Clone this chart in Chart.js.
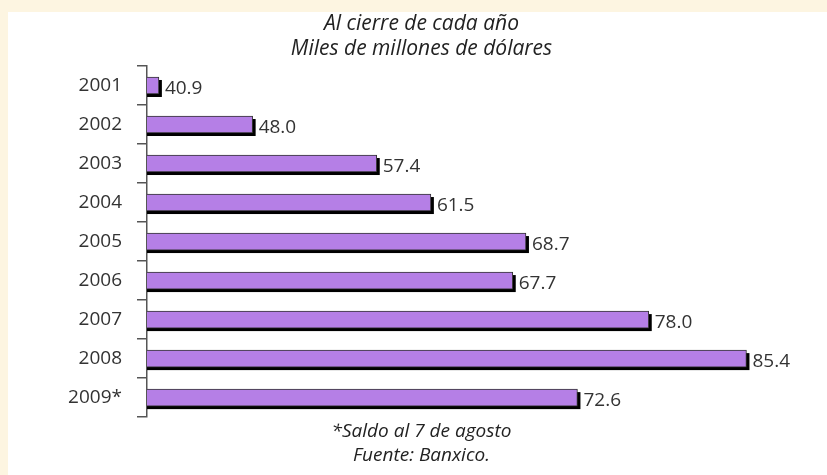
<!DOCTYPE html>
<html lang="es">

<head>
    <meta charset="UTF-8">
    <title>Reservas internacionales</title>
    <script src="https://cdn.jsdelivr.net/npm/chart.js"></script>
    <style>
        * {
            margin: 0;
            padding: 0;
            box-sizing: border-box;
        }

        body {
            width: 827px;
            height: 475px;
            overflow: hidden;
            background-color: #fdf5e1;
            position: relative;
        }

        /* white panel inside the beige frame */
        .panel {
            position: absolute;
            left: 8px;
            top: 12px;
            right: 0;
            bottom: 0;
            background-color: #ffffff;
        }

        #chart {
            position: absolute;
            left: 0;
            top: 0;
        }
    </style>
</head>

<body>
    <div class="panel"></div>
    <canvas id="chart" width="827" height="475"></canvas>

    <script>
        // data
        const years = ['2001', '2002', '2003', '2004', '2005', '2006', '2007', '2008', '2009*'];
        const reserves = [40.9, 48.0, 57.4, 61.5, 68.7, 67.7, 78.0, 85.4, 72.6];
        const titleLines = ['Al cierre de cada año', 'Miles de millones de dólares'];
        const noteLines = ['*Saldo al 7 de agosto', 'Fuente: Banxico.'];

        const textColor = '#333333';

        // black drop shadow under each bar (offset down and right)
        const barShadow = {
            id: 'barShadow',
            beforeDatasetsDraw(chart) {
                const ctx = chart.ctx;
                const meta = chart.getDatasetMeta(0);
                const left = chart.chartArea.left; // bars start at the axis, not at zero
                ctx.save();
                ctx.fillStyle = '#000000';
                meta.data.forEach((bar) => {
                    const h = bar.height;
                    ctx.fillRect(left, bar.y - h / 2 + 3, bar.x - left + 3, h);
                });
                ctx.restore();
            }
        };

        // value text at the end of each bar
        const valueLabels = {
            id: 'valueLabels',
            afterDatasetsDraw(chart) {
                const ctx = chart.ctx;
                const meta = chart.getDatasetMeta(0);
                ctx.save();
                ctx.font = '19px "Open Sans"';
                ctx.fillStyle = textColor;
                ctx.textAlign = 'left';
                ctx.textBaseline = 'middle';
                meta.data.forEach((bar, i) => {
                    ctx.fillText(reserves[i].toFixed(1), bar.x + 6, bar.y + 3);
                });
                ctx.restore();
            }
        };

        const ctx = document.getElementById('chart').getContext('2d');
        const chart = new Chart(ctx, {
            type: 'bar',
            data: {
                labels: years,
                datasets: [{
                    data: reserves,
                    backgroundColor: '#b57fe6',
                    borderColor: '#333333',
                    borderWidth: 1,
                    barThickness: 17,
                    borderSkipped: false
                }]
            },
            options: {
                indexAxis: 'y',
                responsive: false,
                animation: false,
                devicePixelRatio: 1,
                layout: {
                    padding: { left: 16, right: 0, top: 0, bottom: 0 }
                },
                scales: {
                    x: {
                        display: false,
                        min: 40,
                        max: 91.5
                    },
                    y: {
                        afterFit: (scale) => { scale.width = 131; },
                        border: { display: true, color: '#555555', width: 1.5 },
                        grid: {
                            drawOnChartArea: false,
                            drawTicks: true,
                            tickLength: 10,
                            color: '#555555',
                            lineWidth: 1.5
                        },
                        ticks: {
                            color: textColor,
                            padding: 15,
                            font: { family: '"Open Sans"', size: 19 }
                        }
                    }
                },
                plugins: {
                    legend: { display: false },
                    tooltip: { enabled: false },
                    title: {
                        display: true,
                        text: titleLines,
                        color: '#222222',
                        font: { family: '"Open Sans"', size: 21, style: 'italic', weight: 'normal', lineHeight: 1.19 },
                        padding: { top: 12, bottom: 4 }
                    },
                    subtitle: {
                        display: true,
                        position: 'bottom',
                        text: noteLines,
                        color: '#222222',
                        font: { family: '"Open Sans"', size: 19, style: 'italic', weight: 'normal', lineHeight: 1.26 },
                        padding: { top: 3, bottom: 7 }
                    }
                }
            },
            plugins: [barShadow, valueLabels]
        });
    </script>
</body>

</html>
